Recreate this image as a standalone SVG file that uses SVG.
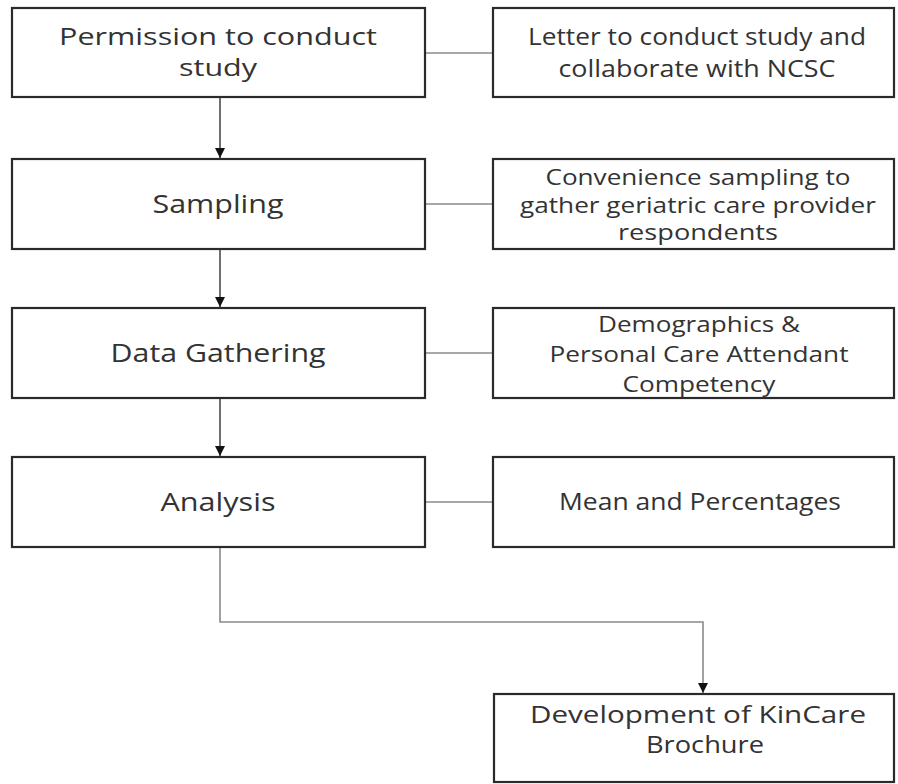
<svg xmlns="http://www.w3.org/2000/svg" width="898" height="784" viewBox="0 0 898 784">
<defs>
<marker id="arr" markerWidth="10" markerHeight="10" refX="10" refY="5" orient="auto" markerUnits="userSpaceOnUse" viewBox="0 0 10 10">
<path d="M0,0 L10,5 L0,10 Z" fill="#111"/>
</marker>
</defs>
<style>
.box{fill:#fff;stroke:#2a2a2a;stroke-width:2.2}
.t{font-family:"Open Sans","DejaVu Sans",sans-serif;font-size:25px;fill:#333;text-anchor:middle}
.r{font-size:23px}
.s{font-size:21px}
.link{fill:none;stroke:#8a8a8a;stroke-width:1.6}
.flow{fill:none;stroke:#333;stroke-width:1.4}
</style>
<rect width="898" height="784" fill="#fff"/>
<g id="connectors">
<line class="link" x1="425" y1="53" x2="493" y2="53"/>
<line class="link" x1="425" y1="204" x2="493" y2="204"/>
<line class="link" x1="425" y1="353" x2="493" y2="353"/>
<line class="link" x1="425" y1="502" x2="493" y2="502"/>
<line class="flow" x1="220" y1="97" x2="220" y2="158" marker-end="url(#arr)"/>
<line class="flow" x1="220" y1="249" x2="220" y2="307" marker-end="url(#arr)"/>
<line class="flow" x1="220" y1="398" x2="220" y2="456" marker-end="url(#arr)"/>
<path class="link" d="M220,547 V622 H703 V693" marker-end="url(#arr)"/>
</g>
<g id="permission">
<rect class="box" x="12" y="8" width="413" height="89"/>
<text class="t r" x="218" y="45" textLength="318" lengthAdjust="spacingAndGlyphs">Permission to conduct</text>
<text class="t r" x="218" y="76" textLength="78" lengthAdjust="spacingAndGlyphs">study</text>
</g>
<g id="letter">
<rect class="box" x="493" y="8" width="401" height="89"/>
<text class="t r" x="697" y="45" textLength="338" lengthAdjust="spacingAndGlyphs">Letter to conduct study and</text>
<text class="t r" x="697" y="77" textLength="277" lengthAdjust="spacingAndGlyphs">collaborate with NCSC</text>
</g>
<g id="sampling">
<rect class="box" x="12" y="159" width="413" height="90"/>
<text class="t" x="218" y="213" textLength="131" lengthAdjust="spacingAndGlyphs">Sampling</text>
</g>
<g id="convenience">
<rect class="box" x="493" y="159" width="401" height="90"/>
<text class="t s" x="698" y="185" textLength="305" lengthAdjust="spacingAndGlyphs">Convenience sampling to</text>
<text class="t s" x="698" y="213" textLength="356" lengthAdjust="spacingAndGlyphs">gather geriatric care provider</text>
<text class="t s" x="698" y="240" textLength="160" lengthAdjust="spacingAndGlyphs">respondents</text>
</g>
<g id="datagathering">
<rect class="box" x="12" y="308" width="413" height="90"/>
<text class="t" x="218" y="362" textLength="215" lengthAdjust="spacingAndGlyphs">Data Gathering</text>
</g>
<g id="demographics">
<rect class="box" x="493" y="308" width="401" height="90"/>
<text class="t s" x="699" y="332" textLength="202" lengthAdjust="spacingAndGlyphs">Demographics &amp;</text>
<text class="t s" x="699" y="362" textLength="299" lengthAdjust="spacingAndGlyphs">Personal Care Attendant</text>
<text class="t s" x="699" y="392" textLength="153" lengthAdjust="spacingAndGlyphs">Competency</text>
</g>
<g id="analysis">
<rect class="box" x="12" y="457" width="413" height="90"/>
<text class="t" x="218" y="511" textLength="115" lengthAdjust="spacingAndGlyphs">Analysis</text>
</g>
<g id="mean">
<rect class="box" x="493" y="457" width="401" height="90"/>
<text class="t r" x="700" y="510" textLength="282" lengthAdjust="spacingAndGlyphs">Mean and Percentages</text>
</g>
<g id="development">
<rect class="box" x="494" y="694" width="400" height="88"/>
<text class="t r" x="698" y="723" textLength="336" lengthAdjust="spacingAndGlyphs">Development of KinCare</text>
<text class="t r" x="705" y="753" textLength="118" lengthAdjust="spacingAndGlyphs">Brochure</text>
</g>
</svg>
